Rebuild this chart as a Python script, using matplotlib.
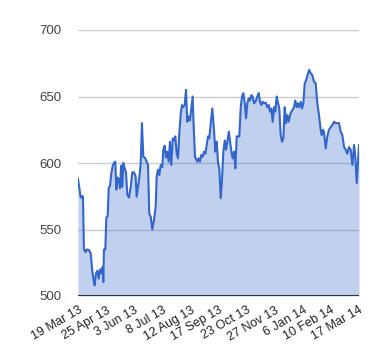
import matplotlib
matplotlib.use("Agg")
import matplotlib.pyplot as plt

plt.rcParams['font.family'] = ['Liberation Sans', 'DejaVu Sans']

# trading day index (0 = 19 Mar 13) and closing price
day = [0, 2.4, 3.6, 4.4, 5.3, 6.9, 7.7, 9.8, 11.3, 12.7, 14.2, 14.8, 16.0, 17.2, 18.4,
       19.6, 20.7, 22.0, 22.5, 23.1, 24.3, 25.2, 26.4, 27.3, 28.5, 29.6, 30.9, 32.0,
       33.2, 34.1, 35.3, 36.5, 37.4, 38.3, 39.4, 40.3, 41.5, 42.7, 43.9, 45.4, 46.9,
       48.3, 49.8, 51.3, 52.2, 53.4, 54.5, 55.8, 56.9, 58.1, 59.6, 61.1, 62.3, 63.4,
       64.7, 66.1, 67.6, 69.1, 70.0, 71.2, 72.3, 73.6, 75.0, 75.9, 77.1, 78.3, 79.4,
       80.7, 81.8, 83.0, 84.3, 85.4, 86.6, 87.8, 89.0, 90.1, 91.4, 92.5, 93.7, 94.9,
       96.1, 97.2, 98.5, 99.6, 100.8, 102.0, 102.8, 104.1, 106.1, 107.4, 108.5, 109.7,
       111.0, 112.1, 113.3, 114.5, 115.7, 116.8, 118.1, 119.5, 121.0, 122.2, 123.4,
       124.6, 125.7, 127.0, 128.1, 129.3, 130.6, 131.7, 132.9, 134.2, 135.3, 136.5,
       137.6, 138.8, 140.0, 141.2, 142.4, 143.5, 144.8, 145.9, 147.1, 148.4, 149.5,
       150.7, 151.9, 153.0, 154.2, 155.4, 156.6, 157.9, 159.5, 160.8, 161.9, 163.1,
       164.3, 165.5, 167.0, 168.4, 169.7, 170.8, 172.0, 173.2, 174.4, 175.5, 176.8,
       178.0, 179.1, 180.3, 181.5, 182.7, 183.9, 185.1, 186.2, 187.5, 188.6, 189.8,
       191.0, 192.2, 193.3, 194.6, 195.7, 196.9, 198.2, 199.3, 200.5, 201.7, 202.9,
       204.1, 204.7, 205.6, 207.1, 208.5, 210.0, 211.5, 212.9, 214.4, 215.9, 216.8,
       218.0, 218.8, 220.4, 221.8, 223.3, 224.8, 226.3, 227.8, 229.3, 230.7, 232.2,
       233.7, 235.2, 236.7, 238.2, 239.6, 241.1, 242.6, 244.1, 245.6, 246.7, 248.0, 250]
price = [588, 574, 575, 575, 535, 533, 535, 534.5, 532, 519, 510, 508, 517, 519, 513,
         520, 517, 522, 510.5, 535, 535, 559, 560, 581, 583, 592, 598, 600,
         601, 580, 589, 587, 581, 598, 582, 600, 596, 593, 576, 574, 582,
         593, 593, 590, 574.6, 582, 588.7, 600, 630, 604.7, 603.8, 601, 598.5, 562,
         559.6, 550, 557, 567, 590, 595, 591, 598.5, 597, 610, 613, 604, 608.5,
         601, 616, 598.5, 618.5, 617, 620, 607, 603.5, 622, 637, 643.6, 642, 643.6,
         655, 631, 635, 632, 641, 650, 630, 604.7, 601, 603.5, 601, 606,
         604.7, 608.5, 607, 613.5, 620, 618.5, 630, 641, 625, 608.5, 616,
         600, 596, 573.5, 587, 608.5, 617, 610, 616, 623.5, 616, 608.5,
         603.5, 608.5, 596, 620, 620, 620, 642, 650, 652.5, 645, 633.6,
         645, 648.6, 647, 651, 650, 645, 646, 650, 652.5, 646, 643.6,
         646, 645, 645.4, 642, 643.6, 638.6, 641, 631, 642, 638.6, 650,
         645, 641, 621, 616, 618.5, 642, 630, 636, 631, 636, 638.6,
         640, 642, 647, 642, 645, 642, 646, 641, 645, 660, 662,
         666, 667.4, 670, 667.4, 666, 661, 660, 645, 636, 625, 621,
         625, 623.5, 611, 620, 625, 627, 628.6, 631, 630, 630, 630,
         623.5, 621, 612, 610, 607, 612, 610, 598.5, 613.5, 604.7, 585, 613.5]

tick_days = [0, 25, 50, 75, 100, 125, 150, 175, 200, 225, 250]
tick_labels = ["19 Mar 13", "25 Apr 13", "3 Jun 13", "8 Jul 13", "12 Aug 13",
               "17 Sep 13", "23 Oct 13", "27 Nov 13", "6 Jan 14", "10 Feb 14", "17 Mar 14"]
y_ticks = [500, 550, 600, 650, 700]

fig = plt.figure(figsize=(3.8, 3.6), dpi=100)
ax = fig.add_axes([78 / 380, 1 - 296 / 360, 281 / 380, 266 / 360])

for v in y_ticks[1:]:
    ax.axhline(v, color="#cccccc", linewidth=1, zorder=1)
ax.fill_between(day, price, 500, color="#3366cc", alpha=0.3, linewidth=0, zorder=2)
ax.plot(day, price, color="#3366cc", linewidth=1.5, zorder=3)
ax.axhline(500, color="#333333", linewidth=1.5, zorder=4)

ax.set_xlim(0, 250)
ax.set_ylim(500, 700)
ax.set_yticks(y_ticks)
ax.set_yticklabels([str(v) for v in y_ticks], fontsize=9.5, color="#444444")
ax.set_xticks(tick_days)
ax.set_xticklabels(tick_labels, fontsize=9, color="#222222", rotation=30,
                   ha="right", va="top", rotation_mode="anchor")
ax.tick_params(axis="both", length=0)
ax.tick_params(axis="y", pad=12)
ax.tick_params(axis="x", pad=6)
for s in ax.spines.values():
    s.set_visible(False)

fig.savefig("out.png", dpi=100)
